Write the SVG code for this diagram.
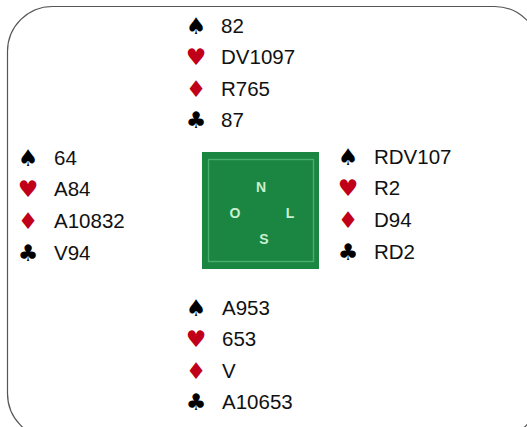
<svg xmlns="http://www.w3.org/2000/svg" width="527" height="427" viewBox="0 0 527 427">
<style>
.t{font-family:"Liberation Sans",Arial,sans-serif;font-size:20.5px;fill:#111}
.s{font-family:"DejaVu Sans",sans-serif;font-size:23px;text-anchor:middle}
.b{fill:#000}
.r{fill:#c00018}
.c{font-family:"Liberation Sans",Arial,sans-serif;font-size:14px;font-weight:bold;fill:#c8f0d0;text-anchor:middle}
</style>
<rect x="7.5" y="6.5" width="532" height="432" rx="45" ry="45" fill="#fff" stroke="#555" stroke-width="1.2"/>
<g id="table">
<rect x="202" y="152" width="117" height="117" fill="#1b8542"/>
<rect x="208.5" y="159.5" width="105" height="102" fill="none" stroke="#5cc080" stroke-width="1.4" opacity="0.7"/>
<text class="c" x="261" y="192">N</text>
<text class="c" x="235" y="218">O</text>
<text class="c" x="290" y="218">L</text>
<text class="c" x="264" y="244">S</text>
</g>
<g id="north">
<text class="s b" x="196" y="34">♠</text><text class="t" x="221" y="33">82</text>
<text class="s r" x="196" y="65">♥</text><text class="t" x="221" y="64">DV1097</text>
<text class="s r" x="196" y="97">♦</text><text class="t" x="221" y="96">R765</text>
<text class="s b" x="196" y="128">♣</text><text class="t" x="221" y="127">87</text>
</g>
<g id="west">
<text class="s b" x="28" y="166">♠</text><text class="t" x="54" y="165">64</text>
<text class="s r" x="28" y="197">♥</text><text class="t" x="54" y="196">A84</text>
<text class="s r" x="28" y="229">♦</text><text class="t" x="54" y="228">A10832</text>
<text class="s b" x="28" y="261">♣</text><text class="t" x="54" y="260">V94</text>
</g>
<g id="east">
<text class="s b" x="348" y="165">♠</text><text class="t" x="374" y="164">RDV107</text>
<text class="s r" x="348" y="196">♥</text><text class="t" x="374" y="195">R2</text>
<text class="s r" x="348" y="228">♦</text><text class="t" x="374" y="227">D94</text>
<text class="s b" x="348" y="260">♣</text><text class="t" x="374" y="259">RD2</text>
</g>
<g id="south">
<text class="s b" x="196" y="316">♠</text><text class="t" x="222" y="315">A953</text>
<text class="s r" x="196" y="347">♥</text><text class="t" x="222" y="346">653</text>
<text class="s r" x="196" y="379">♦</text><text class="t" x="222" y="378">V</text>
<text class="s b" x="196" y="410">♣</text><text class="t" x="222" y="409">A10653</text>
</g>
<g id="connectors"/>
</svg>
